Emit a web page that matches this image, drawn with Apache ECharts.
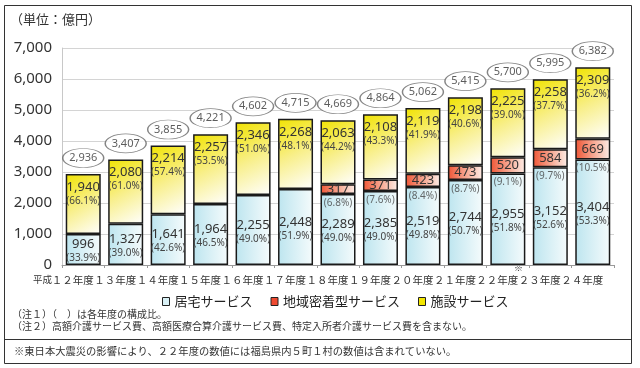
<!DOCTYPE html>
<html><head><meta charset="utf-8">
<script src="https://cdn.jsdelivr.net/npm/echarts@6/dist/echarts.min.js"></script>
<style>html,body{margin:0;padding:0;background:#fff}#c{width:640px;height:368px}</style>
</head><body><div id="c"></div>
<script>
var categories = ['１２年度','１３年度','１４年度','１５年度','１６年度','１７年度','１８年度','１９年度','２０年度','２１年度','２２年度','２３年度','２４年度'];
var homeValues = [996,1327,1641,1964,2255,2448,2289,2385,2519,2744,2955,3152,3404];
var homePct = ['33.9','39.0','42.6','46.5','49.0','51.9','49.0','49.0','49.8','50.7','51.8','52.6','53.3'];
var communityValues = ['-','-','-','-','-','-',317,371,423,473,520,584,669];
var communityPct = ['','','','','','','6.8','7.6','8.4','8.7','9.1','9.7','10.5'];
var facilityValues = [1940,2080,2214,2257,2346,2268,2063,2108,2119,2198,2225,2258,2309];
var facilityPct = ['66.1','61.0','57.4','53.5','51.0','48.1','44.2','43.3','41.9','40.6','39.0','37.7','36.2'];
var totals = [2936,3407,3855,4221,4602,4715,4669,4864,5062,5415,5700,5995,6382];
var seriesNames = ['居宅サービス','地域密着型サービス','施設サービス'];
var yTicks = [0,1000,2000,3000,4000,5000,6000,7000];

function fmt(v){ return Number(v).toLocaleString('en-US'); }
var CJK = '"Noto Sans CJK JP", sans-serif';
var NUM = '"Noto Sans", sans-serif';
var border = {borderColor:'#1a1a1a', borderWidth:1.5};
var noOutline = {textBorderWidth:0, textBorderColor:'transparent', textShadowBlur:0, fontWeight:'normal'};

var blueGrad = new echarts.graphic.LinearGradient(0,0,1,0,[{offset:0,color:'#bde5ef'},{offset:1,color:'#f5fbfc'}]);
var redGrad = new echarts.graphic.LinearGradient(0,0,1,0,[{offset:0,color:'#ef5535'},{offset:0.6,color:'#f8b4a0'},{offset:1,color:'#fdeee8'}]);
var yelGrad = new echarts.graphic.LinearGradient(0,0,1,1,[{offset:0,color:'#f1e300'},{offset:0.5,color:'#f8ef8a'},{offset:1,color:'#ffffff'}]);

var richLbl = {
  v:Object.assign({fontFamily:NUM,fontSize:13,color:'#333',lineHeight:14},noOutline),
  p:Object.assign({fontFamily:NUM,fontSize:10,color:'#444',lineHeight:14},noOutline)
};

var chart = echarts.init(document.getElementById('c'), null, {renderer:'canvas'});
chart.setOption({
  animation:false,
  backgroundColor:'#fff',
  grid:{left:62,right:26,top:48,bottom:103},
  legend:{
    left:157, top:290, itemWidth:7, itemHeight:8, itemGap:18, icon:'rect',
    textStyle:{fontFamily:CJK,fontSize:13,color:'#222'},
    data:[
      {name:seriesNames[0],itemStyle:{color:'#d8f0f5',borderColor:'#222',borderWidth:1}},
      {name:seriesNames[1],itemStyle:{color:'#ef4a30',borderColor:'#222',borderWidth:1}},
      {name:seriesNames[2],itemStyle:{color:'#f3e600',borderColor:'#222',borderWidth:1}}
    ]
  },
  xAxis:{
    type:'category', data:categories,
    axisLine:{lineStyle:{color:'#999'}},
    axisTick:{show:true,length:3,lineStyle:{color:'#999'}},
    axisLabel:{interval:0,margin:10,fontFamily:CJK,fontSize:10.5,color:'#333',padding:[0,21,0,0]}
  },
  yAxis:{
    type:'value', min:0, max:7000, interval:1000,
    axisLine:{show:true,lineStyle:{color:'#c8c8c8'}},
    axisTick:{show:false},
    splitLine:{lineStyle:{color:'#d4d4d4'}},
    axisLabel:{margin:10,fontFamily:NUM,fontSize:15,color:'#333',formatter:function(v){return fmt(v);}}
  },
  series:[
    {name:seriesNames[0],type:'bar',stack:'s',barWidth:35,data:homeValues,
     itemStyle:Object.assign({color:blueGrad},border),
     label:Object.assign({show:true,position:'inside',offset:[0,2],rich:richLbl,
       formatter:function(p){return '{v|'+fmt(p.value)+'}\n{p|('+homePct[p.dataIndex]+'%)}';}},noOutline)},
    {name:seriesNames[1],type:'bar',stack:'s',barWidth:35,data:communityValues,
     itemStyle:Object.assign({color:redGrad},border),
     label:Object.assign({show:true,position:'inside',fontFamily:NUM,fontSize:13,color:'#333',
       formatter:function(p){return p.value==='-'||p.value==null?'':fmt(p.value);}},noOutline)},
    {name:seriesNames[2],type:'bar',stack:'s',barWidth:35,data:facilityValues,
     itemStyle:Object.assign({color:yelGrad},border),
     label:Object.assign({show:true,position:'insideTop',distance:6,rich:richLbl,
       formatter:function(p){return '{v|'+fmt(p.value)+'}\n{p|('+facilityPct[p.dataIndex]+'%)}';}},noOutline)},
    {name:'pct2',type:'scatter',symbolSize:1,itemStyle:{color:'rgba(0,0,0,0)'},silent:true,z:5,
     data:homeValues.map(function(v,i){return communityPct[i]?v:'-';}),
     label:Object.assign({show:true,position:'inside',offset:[0,9],fontFamily:NUM,fontSize:10,color:'#444',
       formatter:function(p){return communityPct[p.dataIndex]?'('+communityPct[p.dataIndex]+'%)':'';}},noOutline)},
    {name:'total',type:'scatter',symbol:'circle',symbolSize:[41,19],symbolOffset:[0,-16],silent:true,z:6,
     data:totals,
     itemStyle:{color:'#fff',borderColor:'#666',borderWidth:1},
     label:Object.assign({show:true,position:'inside',fontFamily:NUM,fontSize:11,color:'#333',
       formatter:function(p){return fmt(p.value);}},noOutline)}
  ],
  graphic:[
    {type:'rect',shape:{x:4.5,y:5.5,width:627,height:358},style:{fill:null,stroke:'#333',lineWidth:1},silent:true},
    {type:'line',shape:{x1:4.5,y1:339.5,x2:631.5,y2:339.5},style:{stroke:'#333',lineWidth:1},silent:true},
    {type:'text',left:10,top:13,style:{text:'（単位：億円）',font:'13px '+CJK,fill:'#333'}},
    {type:'text',left:33,top:275,style:{text:'平成',font:'9.5px '+CJK,fill:'#333'}},
    {type:'text',left:514,top:263,style:{text:'※',font:'9px '+CJK,fill:'#333'}},
    {type:'text',left:12,top:309,style:{text:'（注１）（　）は各年度の構成比。',font:'10px '+CJK,fill:'#333'}},
    {type:'text',left:12,top:321,style:{text:'（注２）高額介護サービス費、高額医療合算介護サービス費、特定入所者介護サービス費を含まない。',font:'10px '+CJK,fill:'#333'}},
    {type:'text',left:14,top:346,style:{text:'※東日本大震災の影響により、２２年度の数値には福島県内５町１村の数値は含まれていない。',font:'10.3px '+CJK,fill:'#333'}}
  ]
});
</script></body></html>
